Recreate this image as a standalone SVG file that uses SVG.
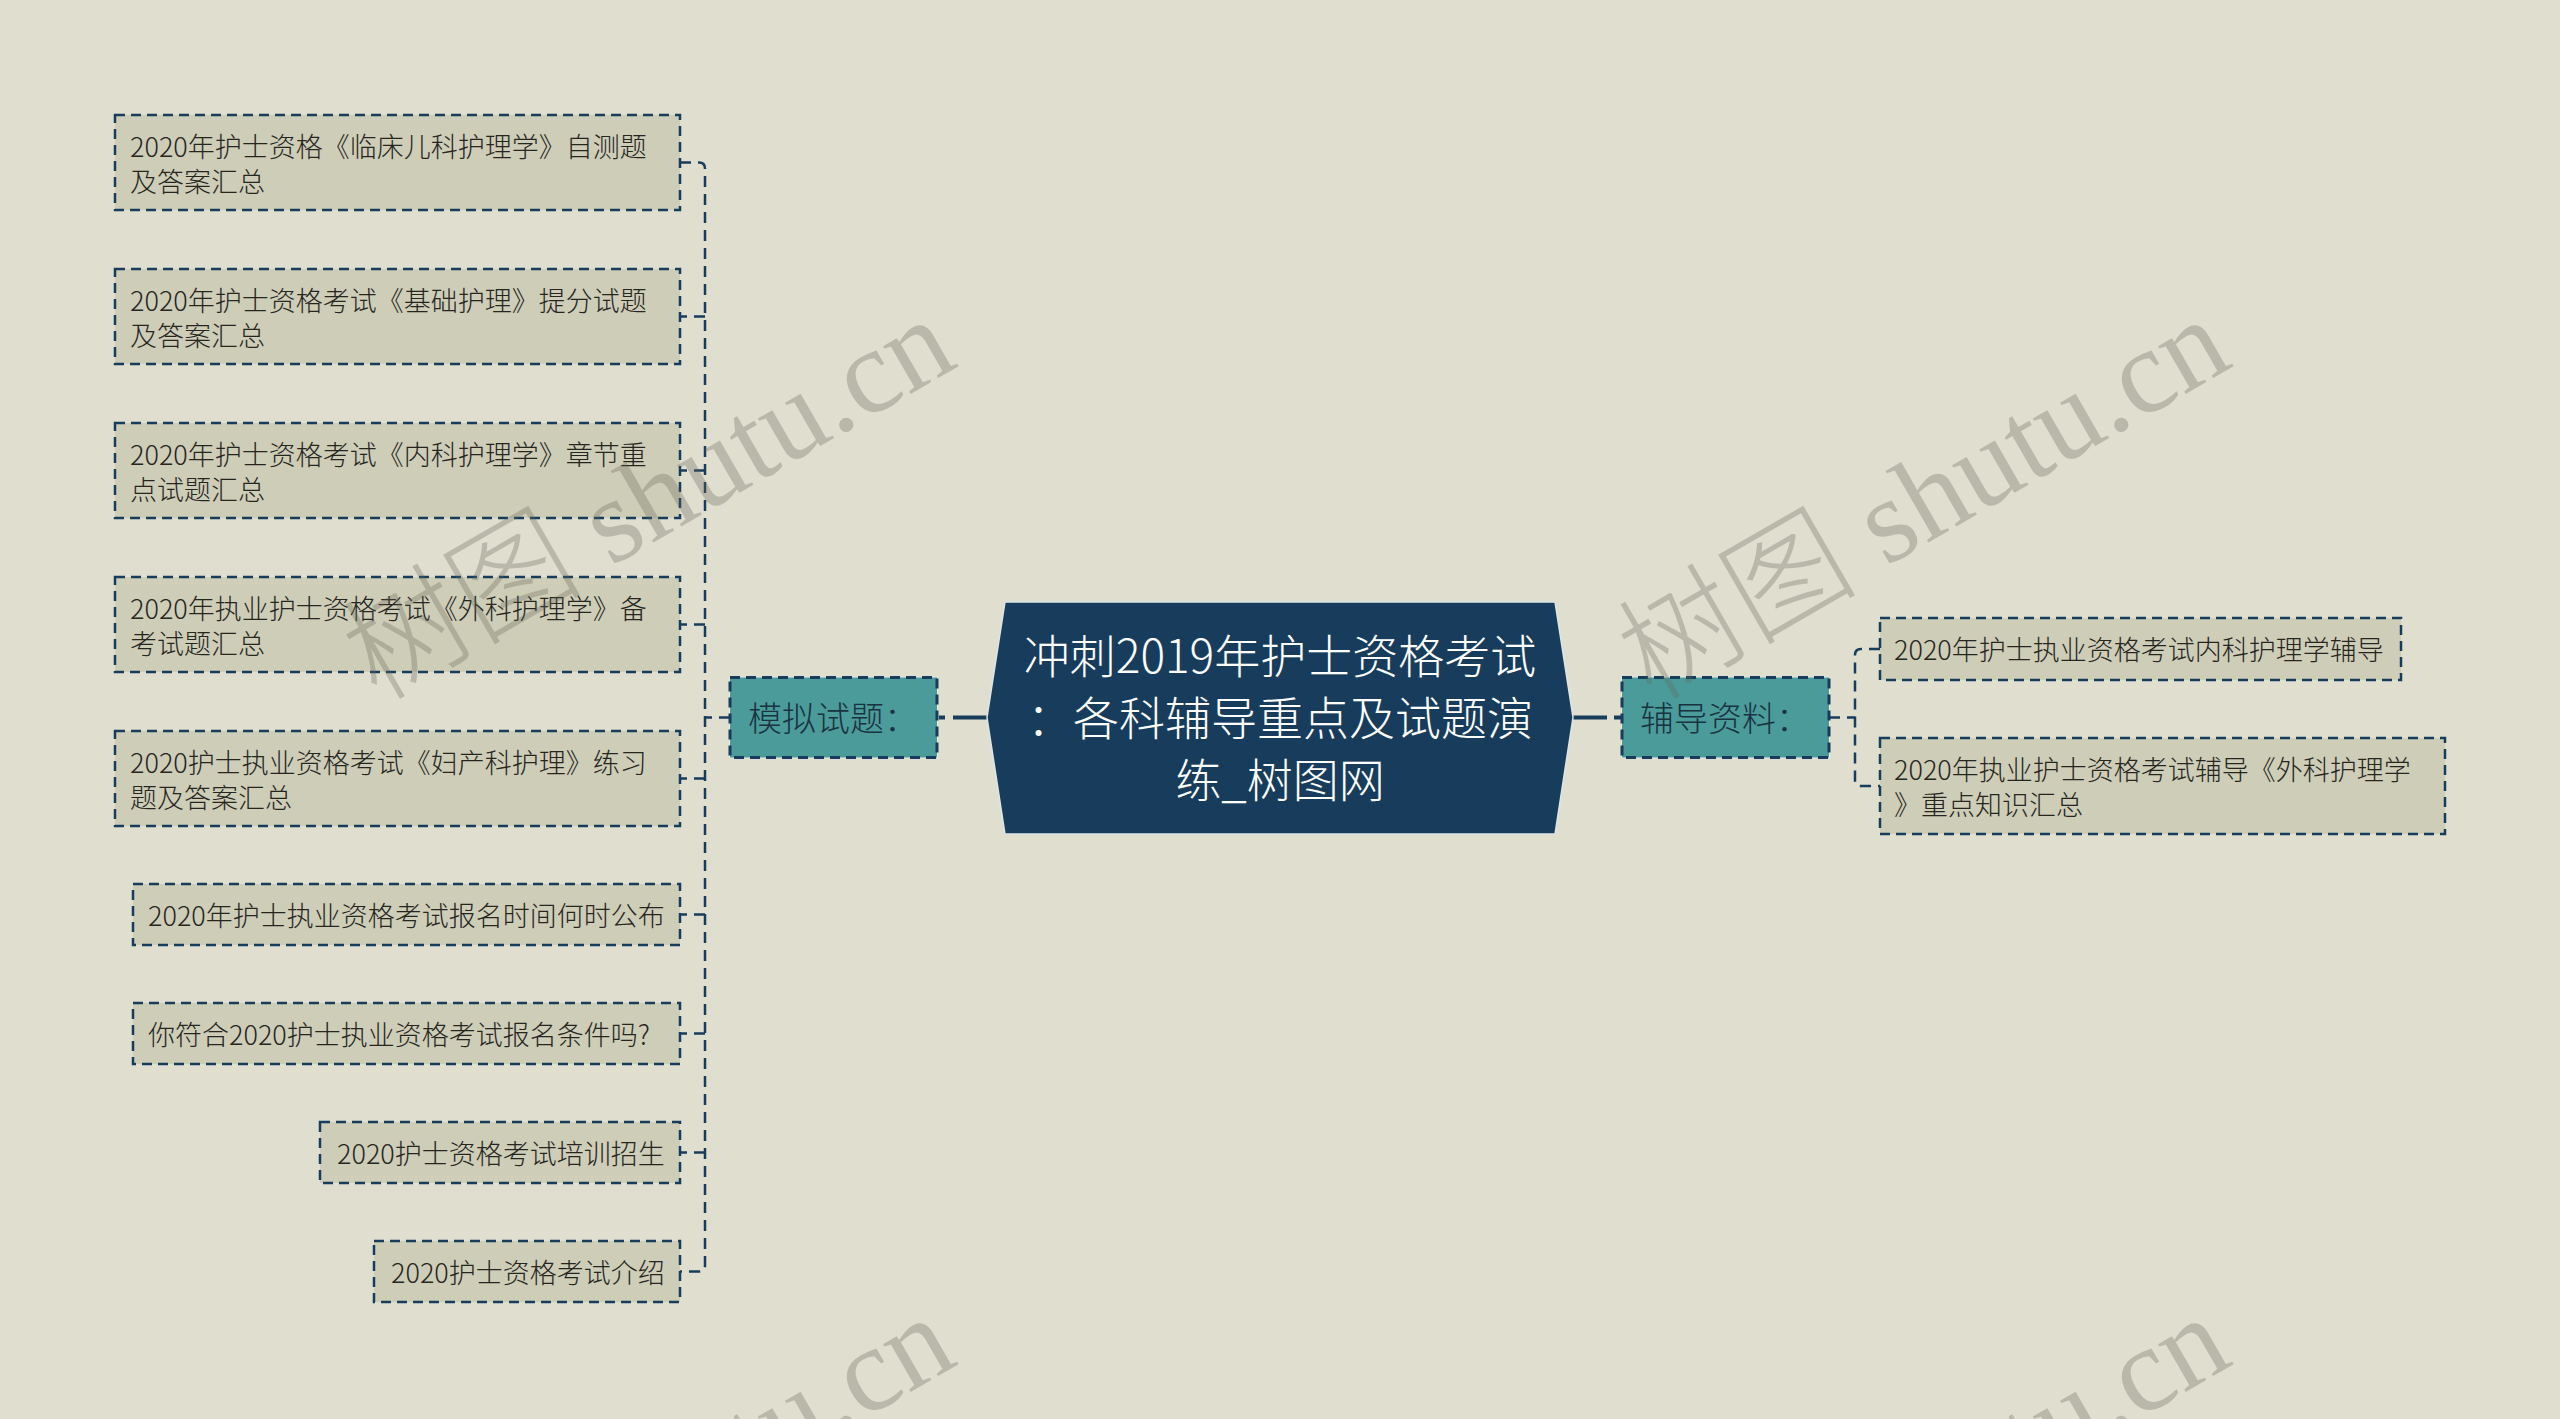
<svg xmlns="http://www.w3.org/2000/svg" width="2560" height="1419" viewBox="0 0 2560 1419">
<style>
.bg{fill:#dfdecf}
.leaf{fill:#cecdb7;stroke:#183d5c;stroke-width:2.5;stroke-dasharray:10 6}
.sub{fill:#4b9b9b;stroke:#183d5c;stroke-width:3;stroke-dasharray:10 6}
.under{fill:none;stroke:#eeeee6;stroke-width:1.5}
.lt{font-family:"Noto Sans CJK SC","Noto Sans",sans-serif;font-size:27px;font-weight:300;fill:#26261f}
.st{font-family:"Noto Sans CJK SC","Noto Sans",sans-serif;font-size:34px;font-weight:300;fill:#1a3340}
.ct{font-family:"Noto Sans CJK SC","Noto Sans",sans-serif;font-size:46px;font-weight:300;fill:#ffffff;text-anchor:middle}
.conn{fill:none;stroke:#183d5c;stroke-width:2.5;stroke-dasharray:11 7}
.solid{fill:none;stroke:#183d5c;stroke-width:4}
.wm{font-family:"Liberation Serif","Noto Sans CJK SC",serif;font-size:120px;font-weight:300;fill:#646458;opacity:0.3}
</style>
<rect class="bg" x="0" y="0" width="2560" height="1419"/>

<g id="connectors">
  <path class="solid" d="M953 717.5 H988"/>
  <path class="solid" d="M939 717.5 H945" stroke-width="3"/>
  <path class="solid" d="M1572 717.5 H1607"/>
  <path class="solid" d="M1614 717.5 H1621" stroke-width="3"/>
  <path class="conn" d="M730 717.5 H705"/>
  <path class="conn" d="M680 162.5 H699 Q705 162.5 705 168.5 V1265.5 Q705 1271.5 699 1271.5 H680"/>
  <path class="conn" d="M705 316.5 H680"/>
  <path class="conn" d="M705 470.5 H680"/>
  <path class="conn" d="M705 624.5 H680"/>
  <path class="conn" d="M705 778.5 H680"/>
  <path class="conn" d="M705 914.5 H680"/>
  <path class="conn" d="M705 1033.5 H680"/>
  <path class="conn" d="M705 1152.5 H680"/>
  <path class="conn" d="M1829 717.5 H1855"/>
  <path class="conn" d="M1880 649 H1861 Q1855 649 1855 655 V780 Q1855 786 1861 786 H1880"/>
</g>

<g id="center">
  <polygon points="987,717.5 1005,602 1555,602 1573,717.5 1555,834 1005,834" fill="#183d5c" stroke="#dfe4e6" stroke-width="1.5"/>
  <text class="ct" x="1280" y="672.5">冲刺2019年护士资格考试</text>
  <text class="ct" x="1280" y="734.5">：各科辅导重点及试题演</text>
  <text class="ct" x="1280" y="796.5">练_树图网</text>
</g>

<g id="sub-left">
  <rect class="under" x="730" y="677.5" width="207" height="80"/>
  <rect class="sub" x="730" y="677.5" width="207" height="80"/>
  <text class="st" x="748" y="730.5">模拟试题：</text>
</g>
<g id="sub-right">
  <rect class="under" x="1622" y="677.5" width="207" height="80"/>
  <rect class="sub" x="1622" y="677.5" width="207" height="80"/>
  <text class="st" x="1640" y="730.5">辅导资料：</text>
</g>

<g id="leaf-l1">
  <rect class="leaf" x="115" y="115" width="565" height="95"/>
  <text class="lt" x="130" y="156.5">2020年护士资格《临床儿科护理学》自测题</text>
  <text class="lt" x="130" y="191.5">及答案汇总</text>
</g>
<g id="leaf-l2">
  <rect class="leaf" x="115" y="269" width="565" height="95"/>
  <text class="lt" x="130" y="310.5">2020年护士资格考试《基础护理》提分试题</text>
  <text class="lt" x="130" y="345.5">及答案汇总</text>
</g>
<g id="leaf-l3">
  <rect class="leaf" x="115" y="423" width="565" height="95"/>
  <text class="lt" x="130" y="464.5">2020年护士资格考试《内科护理学》章节重</text>
  <text class="lt" x="130" y="499.5">点试题汇总</text>
</g>
<g id="leaf-l4">
  <rect class="leaf" x="115" y="577" width="565" height="95"/>
  <text class="lt" x="130" y="618.5">2020年执业护士资格考试《外科护理学》备</text>
  <text class="lt" x="130" y="653.5">考试题汇总</text>
</g>
<g id="leaf-l5">
  <rect class="leaf" x="115" y="731" width="565" height="95"/>
  <text class="lt" x="130" y="772.5">2020护士执业资格考试《妇产科护理》练习</text>
  <text class="lt" x="130" y="807.5">题及答案汇总</text>
</g>
<g id="leaf-l6">
  <rect class="leaf" x="133" y="884" width="547" height="61"/>
  <text class="lt" x="148" y="925.5">2020年护士执业资格考试报名时间何时公布</text>
</g>
<g id="leaf-l7">
  <rect class="leaf" x="133" y="1003" width="547" height="61"/>
  <text class="lt" x="148" y="1044.5">你符合2020护士执业资格考试报名条件吗?</text>
</g>
<g id="leaf-l8">
  <rect class="leaf" x="320" y="1122" width="360" height="61"/>
  <text class="lt" x="337" y="1163.5">2020护士资格考试培训招生</text>
</g>
<g id="leaf-l9">
  <rect class="leaf" x="374" y="1241" width="306" height="61"/>
  <text class="lt" x="391" y="1282.5">2020护士资格考试介绍</text>
</g>

<g id="leaf-r1">
  <rect class="leaf" x="1880" y="618" width="521" height="62"/>
  <text class="lt" x="1894" y="660">2020年护士执业资格考试内科护理学辅导</text>
</g>
<g id="leaf-r2">
  <rect class="leaf" x="1880" y="738" width="565" height="96"/>
  <text class="lt" x="1894" y="779.5">2020年执业护士资格考试辅导《外科护理学</text>
  <text class="lt" x="1894" y="814.5">》重点知识汇总</text>
</g>

<g id="watermarks">
  <text class="wm" transform="translate(377,702) rotate(-30)">树图 shutu.cn</text>
  <text class="wm" transform="translate(1652,702) rotate(-30)">树图 shutu.cn</text>
  <text class="wm" transform="translate(377,1700) rotate(-30)">树图 shutu.cn</text>
  <text class="wm" transform="translate(1652,1700) rotate(-30)">树图 shutu.cn</text>
</g>
</svg>
